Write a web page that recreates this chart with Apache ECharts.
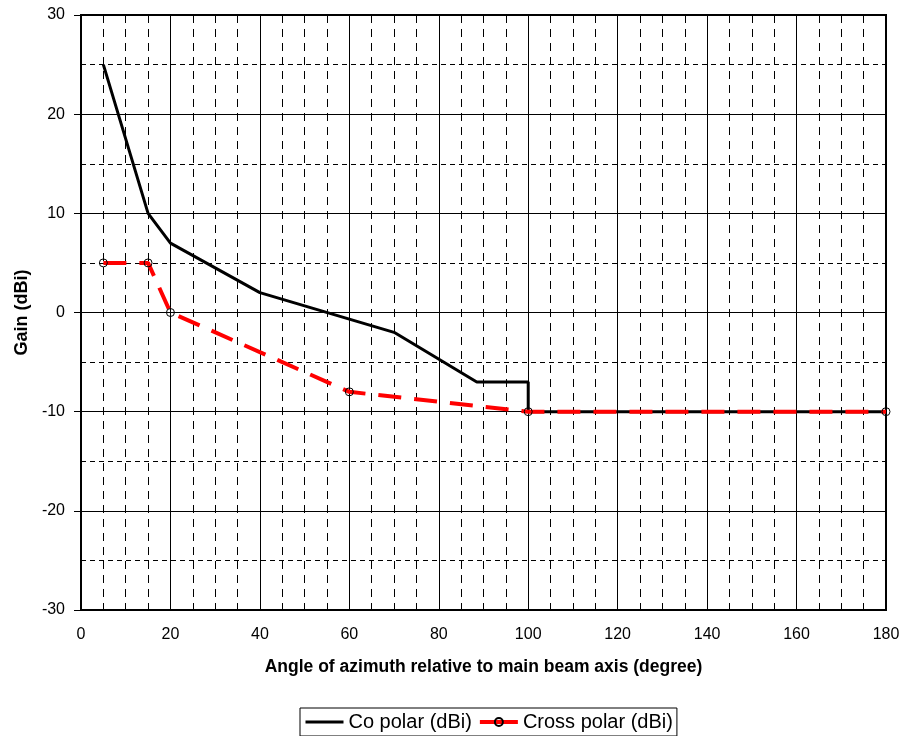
<!DOCTYPE html>
<html><head><meta charset="utf-8">
<script src="https://cdn.jsdelivr.net/npm/echarts@6/dist/echarts.min.js"></script>
<style>html,body{margin:0;padding:0;background:#fff}#c{width:905px;height:736px}</style>
</head><body><div id="c"></div>
<script>
const coAngles = [5, 15, 20, 40, 70, 88.5, 100, 100, 180];
const coGain   = [25, 10, 7, 2, -2, -7, -7, -10, -10];
const crossAngles = [5, 15, 20, 60, 100, 180];
const crossGain   = [5, 5, 0, -8, -10, -10];
const xTicks = [0, 20, 40, 60, 80, 100, 120, 140, 160, 180];
const yTicks = [-30, -20, -10, 0, 10, 20, 30];

const font = 'Liberation Sans, Arial, sans-serif';
const chart = echarts.init(document.getElementById('c'));
chart.setOption({
  animation: false,
  backgroundColor: '#fff',
  grid: { left: 81, right: 19, top: 15, bottom: 126, show: true, borderColor: '#000', borderWidth: 2, backgroundColor: 'transparent' },
  xAxis: {
    type: 'value', min: xTicks[0], max: xTicks[xTicks.length - 1], interval: 20,
    name: 'Angle of azimuth relative to main beam axis (degree)',
    nameLocation: 'middle', nameGap: 48,
    nameTextStyle: { fontFamily: font, fontWeight: 'bold', fontSize: 17.5, color: '#000' },
    axisLine: { show: true, onZero: false, lineStyle: { color: '#000', width: 2 } },
    axisTick: { show: false },
    axisLabel: { margin: 17, fontFamily: font, fontSize: 16, color: '#000' },
    splitLine: { show: true, lineStyle: { color: '#000', width: 1 } },
    minorTick: { show: false, splitNumber: 4 },
    minorSplitLine: { show: true, lineStyle: { color: '#000', width: 1, type: [8, 6] } }
  },
  yAxis: {
    type: 'value', min: yTicks[0], max: yTicks[yTicks.length - 1], interval: 10,
    name: 'Gain (dBi)', nameLocation: 'middle', nameGap: 48, nameRotate: 90,
    nameTextStyle: { fontFamily: font, fontWeight: 'bold', fontSize: 18, color: '#000' },
    axisLine: { show: true, onZero: false, lineStyle: { color: '#000', width: 2 } },
    axisTick: { show: true, length: 7, lineStyle: { color: '#000', width: 1 } },
    axisLabel: { margin: 16, fontFamily: font, fontSize: 16, color: '#000' },
    splitLine: { show: true, lineStyle: { color: '#000', width: 1 } },
    minorTick: { show: false, splitNumber: 2 },
    minorSplitLine: { show: true, lineStyle: { color: '#000', width: 1, type: [5, 4] } }
  },
  legend: {
    left: 300, top: 708, orient: 'horizontal',
    borderColor: '#000', borderWidth: 1, backgroundColor: '#fff',
    padding: [4, 4, 4, 4], itemGap: 6, itemWidth: 38, itemHeight: 10,
    textStyle: { fontFamily: font, fontSize: 20, color: '#000' },
    data: [
      { name: 'Co polar (dBi)', lineStyle: { width: 3, color: '#000' } },
      { name: 'Cross polar (dBi)', lineStyle: { type: 'solid', width: 4, color: '#ff0000' } }
    ]
  },
  series: [
    {
      name: 'Co polar (dBi)', type: 'line', showSymbol: false, symbol: 'none',
      data: coAngles.map((a, i) => [a, coGain[i]]),
      lineStyle: { color: '#000', width: 3 },
      itemStyle: { color: 'rgba(0,0,0,0)', borderWidth: 0 }, z: 3
    },
    {
      name: 'Cross polar (dBi)', type: 'line', symbol: 'circle', symbolSize: 8,
      data: crossAngles.map((a, i) => [a, crossGain[i]]),
      lineStyle: { color: '#ff0000', width: 4, type: [23, 13] },
      itemStyle: { color: 'rgba(255,255,255,0)', borderColor: '#000', borderWidth: 1 }, z: 4
    }
  ]
});
</script></body></html>
